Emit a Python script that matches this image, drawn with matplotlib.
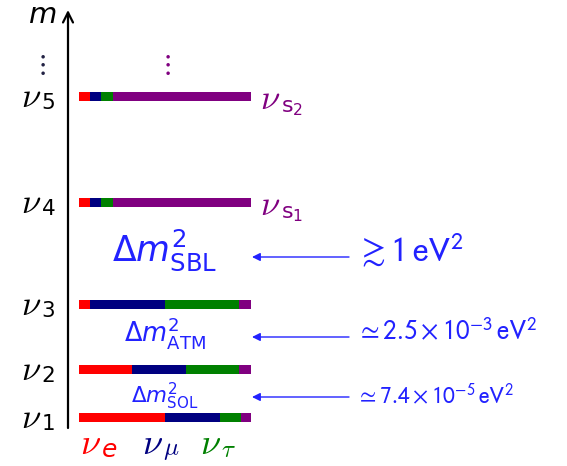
import matplotlib
matplotlib.use("Agg")
import matplotlib.pyplot as plt
import numpy as np

# ---- data ----
states = ["1", "2", "3", "4", "5"]
mass_levels = [417, 369, 304, 202, 96]          # vertical position of each mass eigenstate
flavors = ["e", "mu", "tau", "s"]
flavor_colors = ["#ff0000", "#000080", "#008000", "#800080"]
fractions = {
    "1": [0.50, 0.32, 0.12, 0.06],
    "2": [0.31, 0.31, 0.31, 0.07],
    "3": [0.065, 0.435, 0.43, 0.07],
    "4": [0.065, 0.065, 0.065, 0.805],
    "5": [0.065, 0.065, 0.065, 0.805],
}
sterile_labels = ["1", "2"]
sterile_states = ["4", "5"]
splittings = [r"$\Delta m^2_{\mathrm{SOL}}$", r"$\Delta m^2_{\mathrm{ATM}}$", r"$\Delta m^2_{\mathrm{SBL}}$"]
split_values = [r"$\simeq 7.4\times10^{-5}\,\mathrm{eV}^2$",
                r"$\simeq 2.5\times10^{-3}\,\mathrm{eV}^2$",
                r"$\gtrsim 1\,\mathrm{eV}^2$"]
split_y = [397, 337, 257]
split_label_y = [396, 333, 250]
split_fs = [15.5, 18.5, 25]
value_fs = [17, 19.5, 25]

blue = "#2222ff"
purple = "#800080"
W, H = 567, 466
fig = plt.figure(figsize=(W / 100, H / 100), dpi=100)
ax = fig.add_axes([0, 0, 1, 1])
ax.set_xlim(0, W)
ax.set_ylim(H, 0)
ax.axis("off")


def nu(x, y, sub, color="black", sub_fs=15, dx=14, dy=6, sub_font="dejavusans", fs=25):
    ax.text(x, y, r"$\nu$", fontsize=fs, ha="left", va="center", color=color,
            math_fontfamily="cm")
    ax.text(x + dx, y + dy, sub, fontsize=sub_fs, ha="left", va="center", color=color,
            math_fontfamily=sub_font)


x0, total = 79, 172
for s, y in zip(states, mass_levels):
    left = x0
    for f, c in zip(fractions[s], flavor_colors):
        ax.barh(y, f * total, left=left, height=9, color=c, linewidth=0)
        left += f * total
    nu(21, y + 1, r"$\mathrm{%s}$" % s, sub_fs=15.5, dx=20, dy=6)

# sterile labels
for lab, st in zip(sterile_labels, sterile_states):
    y = mass_levels[states.index(st)]
    nu(260, y + 3, r"$\mathrm{s}_{\mathrm{%s}}$" % lab, color=purple, sub_fs=16, dx=21, dy=9)

# dots
ax.text(40, 64, r"$\vdots$", fontsize=20, ha="center", va="center", color="#222244",
        math_fontfamily="cm")
ax.text(165, 64, r"$\vdots$", fontsize=20, ha="center", va="center", color=purple,
        math_fontfamily="cm")

# vertical mass axis
ax.annotate("", xy=(68, 10), xytext=(68, 428),
            arrowprops=dict(arrowstyle="->", lw=1.6, color="black", mutation_scale=18,
                            shrinkA=0, shrinkB=0))
ax.text(42, 15, r"$m$", fontsize=21, ha="center", va="center", math_fontfamily="dejavusans")

# splittings
for lab, val, ya, yl, fs, vfs in zip(splittings, split_values, split_y, split_label_y,
                                     split_fs, value_fs):
    ax.text(165, yl, lab, fontsize=fs, ha="center", va="center", color=blue,
            math_fontfamily="dejavusans")
    ax.annotate("", xy=(252, ya), xytext=(349, ya),
                arrowprops=dict(arrowstyle="-|>", lw=1.0, color=blue, mutation_scale=12,
                                shrinkA=0, shrinkB=0))
    ax.text(356, yl, val, fontsize=vfs, ha="left", va="center", color=blue,
            math_fontfamily="stixsans")

# flavour labels
flavor_subs = [r"$e$", r"$\mu$", r"$\tau$"]
flavor_fonts = ["dejavusans", "cm", "cm"]
flavor_x = [80, 142, 200]
for sub, font, xpos, c in zip(flavor_subs, flavor_fonts, flavor_x, flavor_colors):
    nu(xpos, 444, sub, color=c, sub_fs=18, dx=21, dy=6, sub_font=font, fs=26)

fig.savefig("out.png", dpi=100)
